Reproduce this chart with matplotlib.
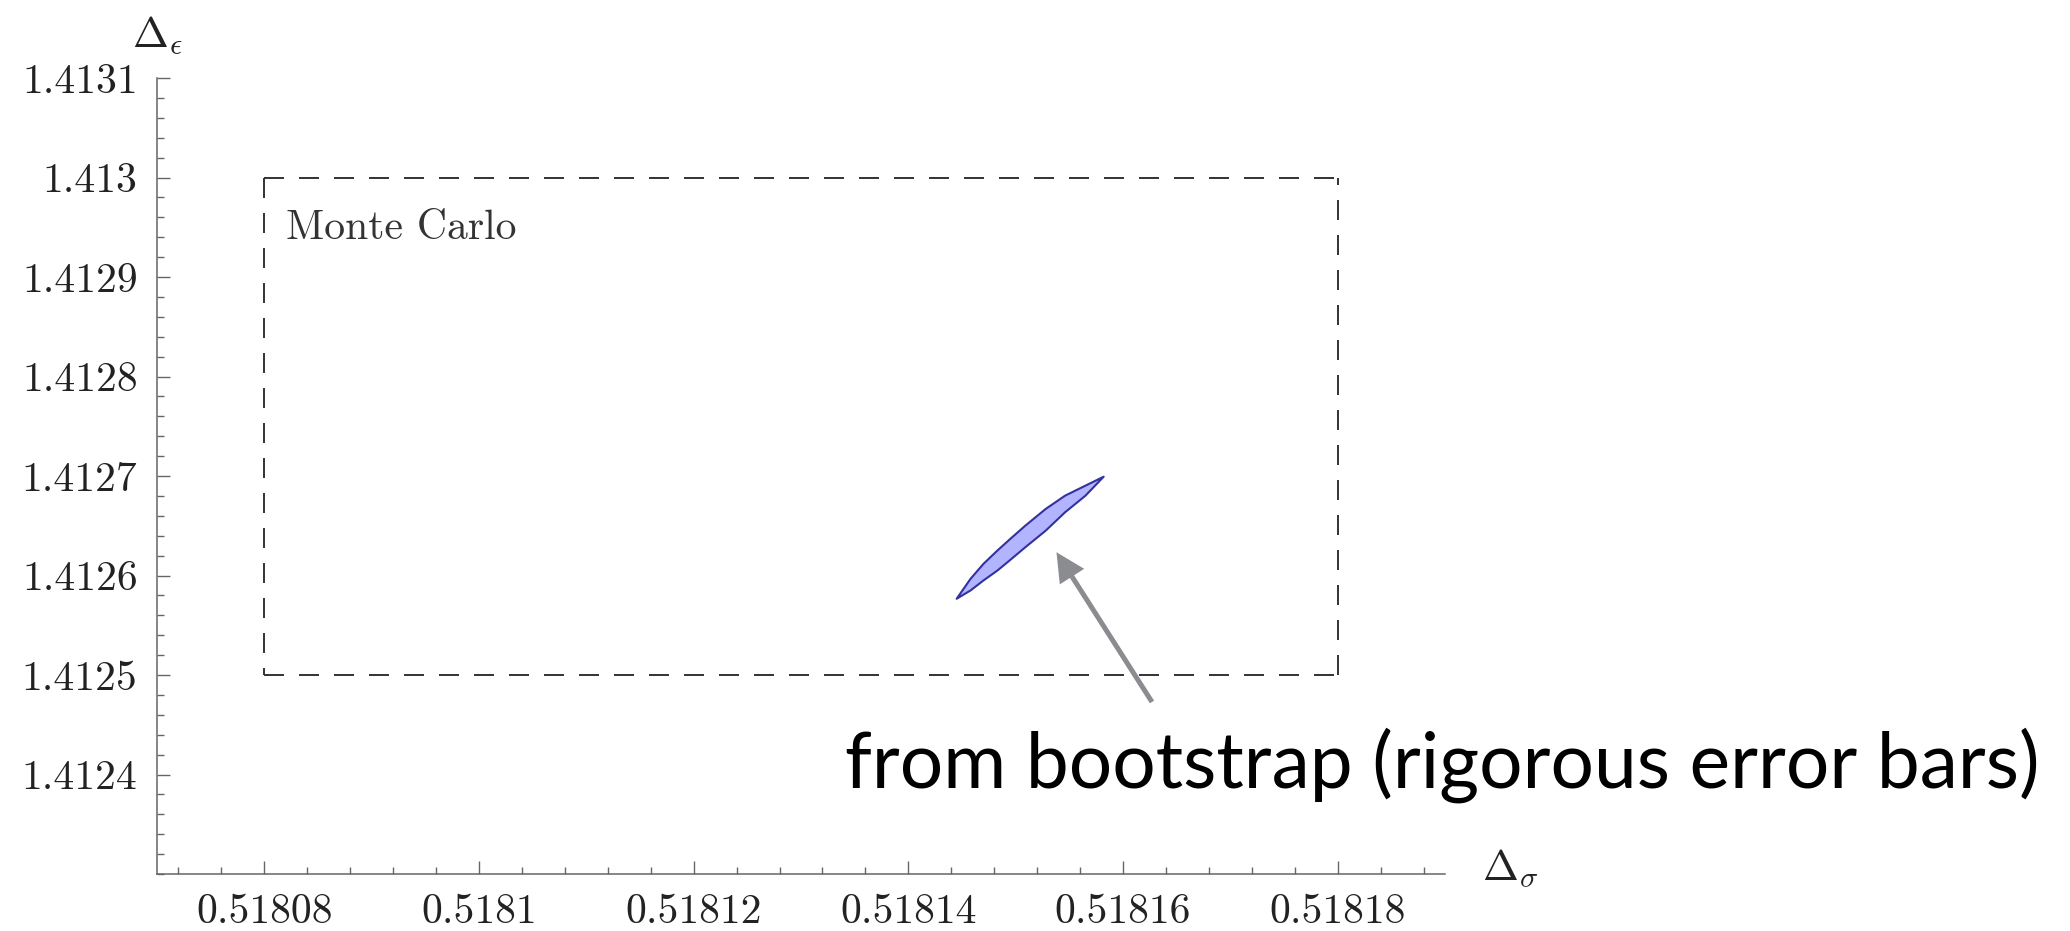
import matplotlib
matplotlib.use("Agg")
import matplotlib.pyplot as plt
from matplotlib.ticker import FixedLocator, FixedFormatter, AutoMinorLocator
from matplotlib.patches import FancyArrowPatch

plt.rcParams['mathtext.fontset'] = 'cm'
plt.rcParams['lines.scale_dashes'] = False

# ---- data ----
x_ticks = [0.51808, 0.51810, 0.51812, 0.51814, 0.51816, 0.51818]
x_tick_labels = ["0.51808", "0.5181", "0.51812", "0.51814", "0.51816", "0.51818"]
y_ticks = [1.4124, 1.4125, 1.4126, 1.4127, 1.4128, 1.4129, 1.4130, 1.4131]
y_tick_labels = ["1.4124", "1.4125", "1.4126", "1.4127", "1.4128", "1.4129", "1.413", "1.4131"]
x_limits = [0.51807, 0.51819]
y_limits = [1.4123, 1.4131]

# Monte Carlo box
mc_x = [0.51808, 0.51818]
mc_y = [1.4125, 1.4130]

# bootstrap allowed region (upper and lower boundaries)
upper_x = [0.5181445, 0.5181458, 0.5181470, 0.5181483, 0.5181495, 0.5181509,
           0.5181528, 0.5181546, 0.5181565, 0.5181582]
upper_y = [1.4125766, 1.4125967, 1.4126117, 1.4126251, 1.4126368, 1.4126501,
           1.4126669, 1.4126802, 1.4126903, 1.4126993]
lower_x = [0.5181445, 0.5181458, 0.5181470, 0.5181483, 0.5181495, 0.5181509,
           0.5181528, 0.5181546, 0.5181565, 0.5181582]
lower_y = [1.4125766, 1.4125850, 1.4125950, 1.4126050, 1.4126157, 1.4126284,
           1.4126451, 1.4126635, 1.4126802, 1.4126993]

# arrow (tail -> head)
arrow_tail = (0.5181627, 1.4124729)
arrow_head = (0.5181538, 1.4126234)

fig = plt.figure(figsize=(20.70, 9.31), dpi=100)
ax = fig.add_axes([157/2070, 1-874/931, (1445-157)/2070, (874-78)/931])
ax.set_xlim(*x_limits)
ax.set_ylim(*y_limits)

for s in ['top', 'right']:
    ax.spines[s].set_visible(False)
for s in ['left', 'bottom']:
    ax.spines[s].set_color('#666666')
    ax.spines[s].set_linewidth(1.1)

ax.xaxis.set_major_locator(FixedLocator(x_ticks))
ax.xaxis.set_major_formatter(FixedFormatter(x_tick_labels))
ax.yaxis.set_major_locator(FixedLocator(y_ticks))
ax.yaxis.set_major_formatter(FixedFormatter(y_tick_labels))
ax.xaxis.set_minor_locator(AutoMinorLocator(5))
ax.yaxis.set_minor_locator(AutoMinorLocator(5))
ax.tick_params(which='both', direction='in', color='#666666', width=1.0,
               labelcolor='#222222', labelsize=30)
ax.tick_params(which='major', length=9.3)
ax.tick_params(which='minor', length=5)
ax.tick_params(axis='x', which='major', pad=14)
ax.tick_params(axis='y', which='major', pad=14)
for lab in ax.get_xticklabels() + ax.get_yticklabels():
    lab.set_family('cmr10')

# dashed Monte Carlo box, each edge starting at a corner
dash = dict(color='#333333', lw=1.4, dashes=(14.4, 10.8), solid_capstyle='butt')
ax.plot([mc_x[0], mc_x[1]], [mc_y[1], mc_y[1]], **dash)
ax.plot([mc_x[0], mc_x[0]], [mc_y[1], mc_y[0]], **dash)
ax.plot([mc_x[0], mc_x[1]], [mc_y[0], mc_y[0]], **dash)
ax.plot([mc_x[1], mc_x[1]], [mc_y[0], mc_y[1]], **dash)

ax.text(286/2070, 1-239/931, "Monte Carlo", transform=fig.transFigure,
        family='cmr10', fontsize=30, color='#333333', ha='left', va='baseline')

# lens region
poly_x = upper_x + lower_x[::-1]
poly_y = upper_y + lower_y[::-1]
ax.fill(poly_x, poly_y, facecolor='#b3b4ff', edgecolor='#32329e', lw=1.5,
        joinstyle='round')

# arrow
arr = FancyArrowPatch(arrow_tail, arrow_head, arrowstyle='-|>,head_length=15,head_width=7.5',
                      mutation_scale=1, color='#8a8c90', lw=3.6, shrinkA=0, shrinkB=0,
                      joinstyle='miter', capstyle='butt')
ax.add_patch(arr)

# axis labels
fig.text(132/2070, 1-36/931, r'$\Delta_\epsilon$', fontsize=31, color='#222222',
         ha='left', va='center')
fig.text(1482/2070, 1-868/931, r'$\Delta_\sigma$', fontsize=31, color='#222222',
         ha='left', va='center')

# big annotation text, fitted to target width
t = fig.text(845/2070, 1-788/931, "from bootstrap (rigorous error bars)",
             family='Lato', fontsize=50, color='black', ha='left', va='baseline')
fig.canvas.draw()
w = t.get_window_extent().width
t.set_fontsize(50 * 1192 / w)

fig.savefig("out.png", dpi=100)
